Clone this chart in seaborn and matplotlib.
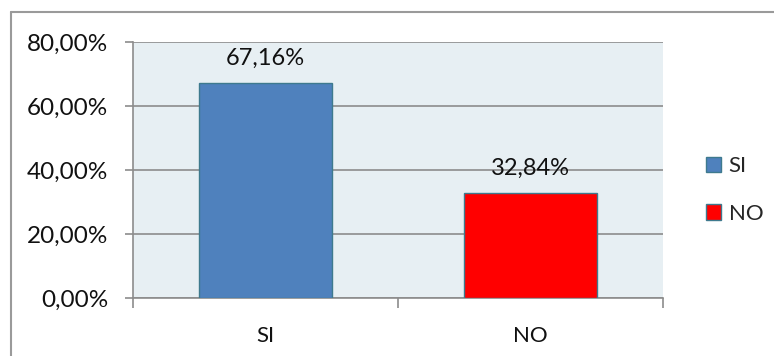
import matplotlib
matplotlib.use("Agg")
import matplotlib.pyplot as plt
from matplotlib.lines import Line2D
from matplotlib.patches import Patch
import seaborn as sns
import pandas as pd

categories = ["SI", "NO"]
percentages = [67.16, 32.84]
bar_colors = ["#4F81BD", "#FF0000"]
y_ticks = [0, 20, 40, 60, 80]

sns.set_theme(style="white")
plt.rcParams["font.family"] = ["Lato", "DejaVu Sans"]

W, H = 774, 356
fig = plt.figure(figsize=(W / 100, H / 100), dpi=100)
fig.patch.set_facecolor("white")

# outer chart frame (top and left edges visible)
fig.add_artist(Line2D([11 / W, 11 / W], [0, 1 - 12 / H], color="#9A9A9A", lw=1.5,
                      transform=fig.transFigure))
fig.add_artist(Line2D([11 / W, 1], [1 - 12 / H, 1 - 12 / H], color="#9A9A9A", lw=1.5,
                      transform=fig.transFigure))

ax = fig.add_axes([133 / W, (H - 298) / H, 530 / W, 256 / H])
ax.set_facecolor("#E7EFF3")

df = pd.DataFrame({"cat": categories, "val": percentages})
sns.barplot(data=df, x="cat", y="val", hue="cat", palette=bar_colors, saturation=1,
            width=0.505, edgecolor="#3E7A8E", linewidth=1.0, ax=ax,
            legend=False, zorder=3)

ax.set_ylim(0, 80)
ax.set_xlim(-0.5, 1.5)
ax.set_yticks(y_ticks)
ax.set_yticklabels([f"{v:.2f}".replace(".", ",") + "%" for v in y_ticks], fontsize=17.5,
                   color="#111111")
ax.yaxis.grid(True, color="#8C8C8C", lw=1.2, zorder=0)
ax.set_axisbelow(True)

# category boundaries carry the x tick marks; labels sit at bar centers
ax.set_xticks([-0.5, 0.5, 1.5])
ax.set_xticklabels([])
ax.set_xticks([0, 1], minor=True)
ax.set_xticklabels(categories, minor=True, fontsize=16, color="#111111")
ax.tick_params(axis="x", which="major", direction="out", length=7, width=1.2,
               color="#8C8C8C", bottom=True)
ax.tick_params(axis="x", which="minor", length=0, pad=20)
ax.tick_params(axis="y", direction="out", length=6, width=1.2, color="#8C8C8C",
               left=True, pad=12)
ax.set_xlabel("")
ax.set_ylabel("")

for side in ["top", "right"]:
    ax.spines[side].set_visible(False)
for side in ["left", "bottom"]:
    ax.spines[side].set_color("#8C8C8C")
    ax.spines[side].set_linewidth(1.2)

for container in ax.containers:
    ax.bar_label(container, labels=[f"{v:.2f}".replace(".", ",") + "%" for v in container.datavalues],
                 padding=10, fontsize=17, color="#111111")

handles = [Patch(facecolor=c, edgecolor="#3E7A8E", lw=1.0) for c in bar_colors]
fig.legend(handles, categories, loc="center left", bbox_to_anchor=(697 / W, 1 - 190 / H),
           frameon=False, handlelength=0.68, handleheight=0.68,
           handletextpad=0.35, labelspacing=1.25, prop={"size": 16},
           borderaxespad=0)

fig.savefig("out.png", dpi=100, facecolor="white")
